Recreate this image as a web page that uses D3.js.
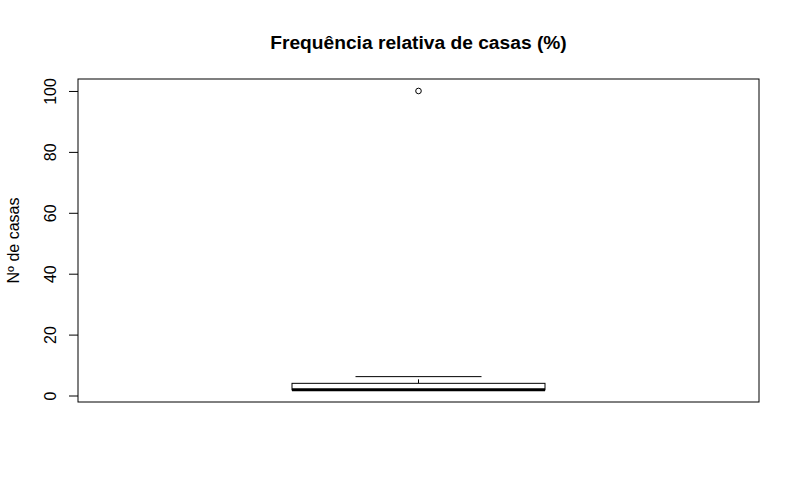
<!DOCTYPE html>
<html><head><meta charset="utf-8">
<script src="https://cdn.jsdelivr.net/npm/d3@7"></script>
<style>body{margin:0;background:#fff}svg{font-family:"Liberation Sans",Arial,sans-serif}</style>
</head><body>
<script>
const title = "Frequência relativa de casas (%)";
const yLabel = "Nº de casas";
const yTicks = [0, 20, 40, 60, 80, 100];
// boxplot stats: lower whisker, Q1, median, Q3, upper whisker
const stats = [1.8, 1.85, 1.9, 4.0, 6.2];
const outliers = [100];

const W = 800, H = 500;
const m = {l: 78, r: 759, t: 79, b: 402};
const svg = d3.select("body").append("svg").attr("width", W).attr("height", H);

const y = d3.scaleLinear().domain([-2.13, 103.93]).range([m.b, m.t]);
const x = d3.scaleLinear().domain([0.46, 1.54]).range([m.l, m.r]);
const cx = x(1);
const boxHalf = 126.5, stapleHalf = 63;

svg.append("rect").attr("x", m.l).attr("y", m.t).attr("width", m.r - m.l).attr("height", m.b - m.t)
  .attr("fill", "none").attr("stroke", "#000").attr("stroke-width", 1);

const ax = svg.append("g").attr("transform", `translate(${m.l},0)`)
  .call(d3.axisLeft(y).tickValues(yTicks).tickSize(9).tickPadding(0).tickFormat(d3.format("d")));
ax.select(".domain").remove();
ax.selectAll(".tick line").attr("stroke", "#000");
ax.selectAll(".tick text").attr("font-size", 16).attr("fill", "#000")
  .attr("text-anchor", "middle").attr("dy", null).attr("x", null)
  .attr("transform", "translate(-22.5,0) rotate(-90)");

svg.append("text").attr("transform", `translate(18.5,${(m.t + m.b) / 2}) rotate(-90)`)
  .attr("text-anchor", "middle")
  .attr("font-size", 16).text(yLabel);

svg.append("text").attr("x", cx).attr("y", 49).attr("text-anchor", "middle")
  .attr("font-size", 19.2).attr("font-weight", "bold").text(title);

const g = svg.append("g").attr("stroke", "#000").attr("fill", "none");
g.append("line").attr("x1", cx).attr("x2", cx).attr("y1", y(stats[3])).attr("y2", y(stats[4])).attr("stroke-dasharray", "4,4");
g.append("line").attr("x1", cx - stapleHalf).attr("x2", cx + stapleHalf).attr("y1", y(stats[4])).attr("y2", y(stats[4]));
g.append("line").attr("x1", cx).attr("x2", cx).attr("y1", y(stats[1])).attr("y2", y(stats[0]));
g.append("line").attr("x1", cx - stapleHalf).attr("x2", cx + stapleHalf).attr("y1", y(stats[0])).attr("y2", y(stats[0]));
g.append("rect").attr("x", cx - boxHalf).attr("width", 2 * boxHalf)
  .attr("y", y(stats[3])).attr("height", y(stats[1]) - y(stats[3])).attr("fill", "#fff");
g.append("line").attr("x1", cx - boxHalf).attr("x2", cx + boxHalf).attr("y1", y(stats[2])).attr("y2", y(stats[2]))
  .attr("stroke-width", 3);
g.selectAll("circle.o").data(outliers).enter().append("circle")
  .attr("cx", cx).attr("cy", d => y(d)).attr("r", 2.8);
</script>
</body></html>
